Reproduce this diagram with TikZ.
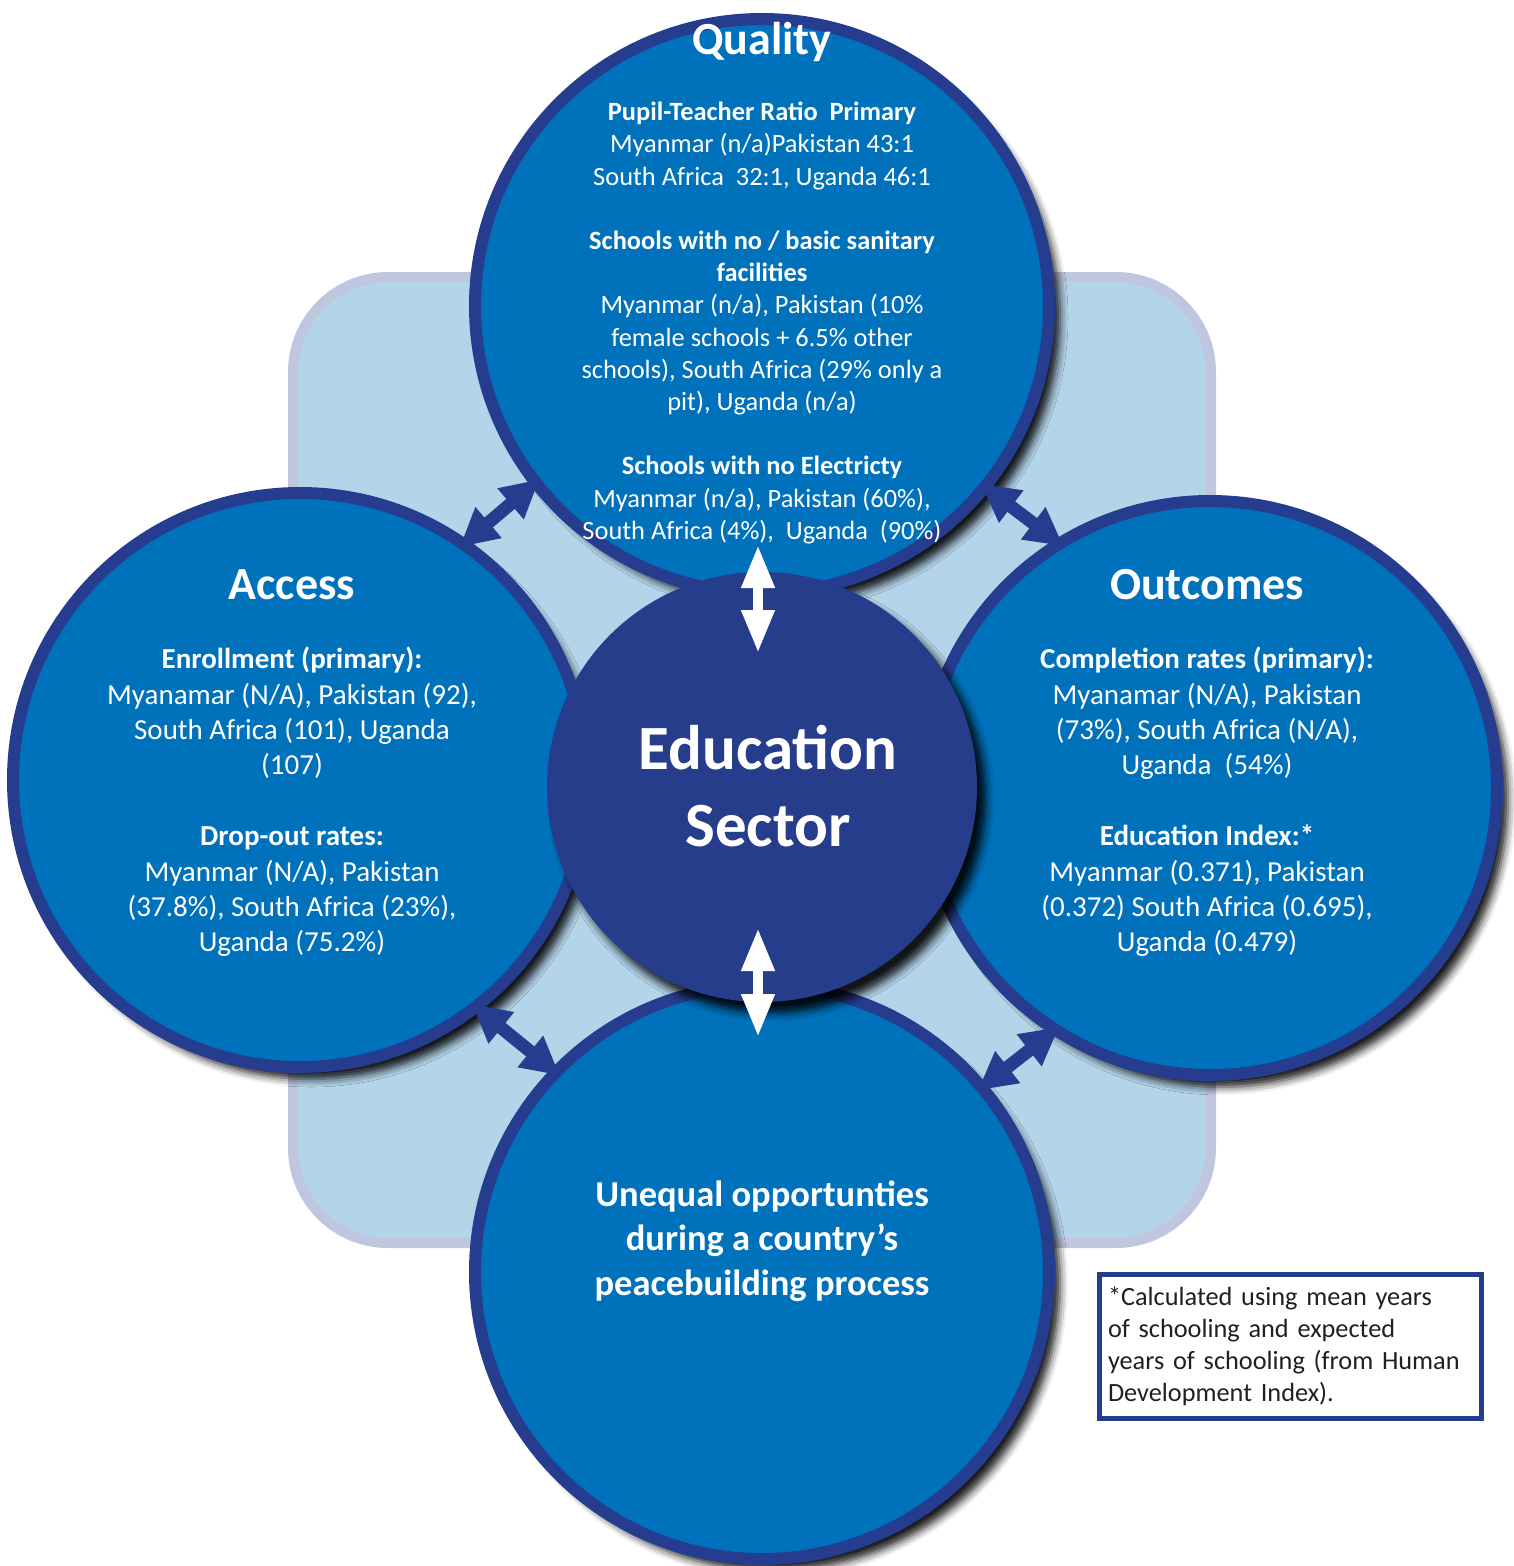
\documentclass[tikz,border=0pt]{standalone}
\usepackage{fontspec}
\setmainfont{Carlito}
\usetikzlibrary{arrows.meta,shadows.blur}
\definecolor{discblue}{HTML}{0071BB}
\definecolor{rimblue}{HTML}{263C8F}
\definecolor{hubblue}{HTML}{263D8C}
\definecolor{panelblue}{HTML}{B4D4EA}
\definecolor{panelrim}{HTML}{BFC6DE}
\definecolor{notetext}{HTML}{231F20}
\begin{document}
\begin{tikzpicture}[x=1pt,y=-1pt,
  disc/.style={circle,fill=discblue,draw=rimblue,line width=12pt,minimum size=574pt,inner sep=0pt,
    blur shadow={shadow xshift=11pt,shadow yshift=-12pt,shadow blur radius=8pt,shadow opacity=90}},
  hub/.style={circle,fill=hubblue,minimum size=430pt,inner sep=0pt,
    blur shadow={shadow xshift=9pt,shadow yshift=-11pt,shadow blur radius=8pt,shadow opacity=90}},
  head/.style={text=white,font=\bfseries\fontsize{46}{55}\selectfont},
  body/.style={text=white,align=center,font=\fontsize{29}{35.4}\selectfont},
  link/.style={{Triangle[length=38pt,width=38pt]}-{Triangle[length=38pt,width=38pt]},
    draw=rimblue,line width=13pt,shorten <=-11pt,shorten >=-11pt},
  updown/.style={{Triangle[length=43pt,width=31pt]}-{Triangle[length=43pt,width=31pt]},
    draw=white,line width=10pt}]
\useasboundingbox (0,0) rectangle (1514,1566);
% light panel behind the discs
\draw[draw=panelrim,fill=panelblue,line width=10pt,rounded corners=95pt] (293,277) rectangle (1211,1243);
\node[disc] (quality) at (762,306) {};
\node[disc] (access) at (300,780) {};
\node[disc] (outcomes) at (1210,788) {};
\node[disc] (unequal) at (762,1272) {};
\node[hub] (sector) at (762,787) {};
% arrows between the discs
\draw[link] (access.55) -- (quality.218);
\draw[link] (quality.-39) -- (outcomes.122);
\draw[link] (access.-52) -- (unequal.136);
\draw[link] (outcomes.237) -- (unequal.40);
\coordinate (qtop) at (758,545);
\coordinate (qbot) at (758,653);
\coordinate (utop) at (758,928);
\coordinate (ubot) at (758,1037);
\draw[updown] (qtop) -- (qbot);
\draw[updown] (utop) -- (ubot);
% texts
\node[head] (qualityhead) at (762,42) {Quality};
\node[body,font=\fontsize{26.4}{32.2}\selectfont] (qualitytext) at (762,323)
  {\textbf{Pupil-Teacher Ratio\ \ Primary}\\
   Myanmar (n/a)Pakistan 43:1\\
   South Africa\ \ 32:1, Uganda 46:1\\[32.2pt]
   \textbf{Schools with no / basic sanitary}\\
   \textbf{facilities}\\
   Myanmar (n/a), Pakistan (10\%\\
   female schools + 6.5\% other\\
   schools), South Africa (29\% only a\\
   pit), Uganda (n/a)\\[32.2pt]
   \textbf{Schools with no Electricty}\\
   Myanmar (n/a), Pakistan (60\%),\\
   South Africa (4\%),\ \ Uganda\ \ (90\%)};
\node[head] (accesshead) at (292,585) {Access};
\node[body] (accesstext) at (292,802)
  {\textbf{Enrollment (primary):}\\
   Myanamar (N/A), Pakistan (92),\\
   South Africa (101), Uganda\\
   (107)\\[35.4pt]
   \textbf{Drop-out rates:}\\
   Myanmar (N/A), Pakistan\\
   (37.8\%), South Africa (23\%),\\
   Uganda (75.2\%)};
\node[head] (outcomeshead) at (1207,585) {Outcomes};
\node[body] (outcomestext) at (1207,802)
  {\textbf{Completion rates (primary):}\\
   Myanamar (N/A), Pakistan\\
   (73\%), South Africa (N/A),\\
   Uganda\ \ (54\%)\\[35.4pt]
   \textbf{Education Index:*}\\
   Myanmar (0.371), Pakistan\\
   (0.372) South Africa (0.695),\\
   Uganda (0.479)};
\node[text=white,align=center,font=\bfseries\fontsize{63}{77}\selectfont] (sectortext) at (768,786)
  {Education\\Sector};
\node[text=white,align=center,font=\bfseries\fontsize{36.5}{44.5}\selectfont] (unequaltext) at (762,1241)
  {Unequal opportunties\\during a country’s\\peacebuilding process};
% footnote box
\node[draw=rimblue,fill=white,line width=5pt,text=notetext,text width=365pt,align=left,
  inner xsep=8.5pt,minimum height=144pt,font=\fontsize{26.3}{32}\selectfont] (footnote) at (1290.5,1346.5)
  {*Calculated using mean years\\
   of schooling and expected\\
   years of schooling (from Human\\
   Development Index).};
\end{tikzpicture}
\end{document}
